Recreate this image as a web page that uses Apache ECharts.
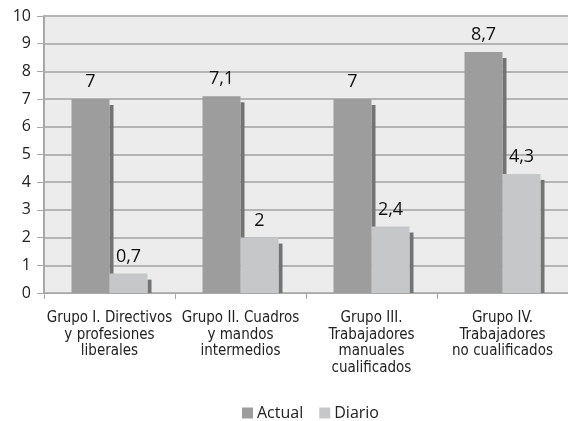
<!DOCTYPE html>
<html>
<head>
<meta charset="utf-8">
<script src="https://cdn.jsdelivr.net/npm/echarts@6/dist/echarts.min.js"></script>
<style>html,body{margin:0;padding:0;background:#fff}#c{width:568px;height:421px}</style>
</head>
<body>
<div id="c"></div>
<script>
const categories = [
  'Grupo I. Directivos\ny profesiones\nliberales',
  'Grupo II. Cuadros\ny mandos\nintermedios',
  'Grupo III.\nTrabajadores\nmanuales\ncualificados',
  'Grupo IV.\nTrabajadores\nno cualificados'
];
const actual = [7, 7.1, 7, 8.7];
const diario = [0.7, 2, 2.4, 4.3];
const yTicks = [0, 1, 2, 3, 4, 5, 6, 7, 8, 9, 10];

const BAR_W = 38;
const fmt = v => String(v).replace('.', ',');

const shadowData = [];
actual.forEach((v, i) => shadowData.push([i, v, 0]));
diario.forEach((v, i) => shadowData.push([i, v, 1]));

const chart = echarts.init(document.getElementById('c'), null, {renderer: 'canvas'});
const labelStyle = {
  show: true, position: 'top', distance: 8,
  fontFamily: 'Open Sans', fontSize: 18, fontWeight: 500, color: '#111',
  formatter: p => fmt(p.value)
};
chart.setOption({
  animation: false,
  backgroundColor: '#ffffff',
  grid: {left: 44, top: 16, width: 531, height: 277, show: true, backgroundColor: '#ebeceb', borderWidth: 0},
  legend: {
    left: 237, top: 400, icon: 'rect', itemWidth: 11, itemHeight: 11, itemGap: 16,
    data: ['Actual', 'Diario'],
    textStyle: {fontFamily: 'Open Sans', fontSize: 16, color: '#222', padding: [0, 0, 0, -1]}
  },
  xAxis: {
    type: 'category', data: categories,
    axisLine: {lineStyle: {color: '#a8a8a8', width: 1}},
    axisTick: {show: true, length: 6, lineStyle: {color: '#a8a8a8'}},
    axisLabel: {
      margin: 17, interval: 0, fontFamily: 'Liberation Sans Narrow, DejaVu Sans Condensed, sans-serif',
      fontSize: 15, lineHeight: 16.5, color: '#222'
    }
  },
  yAxis: {
    type: 'value', min: yTicks[0], max: yTicks[yTicks.length - 1], interval: 1,
    axisLine: {show: true, lineStyle: {color: '#a8a8a8', width: 2}},
    axisTick: {show: true, length: 7, lineStyle: {color: '#a8a8a8'}},
    axisLabel: {margin: 13, fontFamily: 'Open Sans', fontSize: 16, color: '#222'},
    splitLine: {lineStyle: {color: '#b4b4b4', width: 2}}
  },
  series: [
    {
      type: 'custom', name: 'shadow', z: 1, silent: true,
      data: shadowData, encode: {x: 0, y: 1},
      renderItem: function (params, api) {
        const idx = api.value(0), val = api.value(1), side = api.value(2);
        const top = api.coord([idx, val]);
        const base = api.coord([idx, 0]);
        const xr = top[0] + side * BAR_W;
        return {
          type: 'rect',
          shape: {x: xr, y: top[1] + 6, width: 4, height: base[1] - top[1] - 6},
          style: {fill: '#737373'}
        };
      }
    },
    {
      type: 'bar', name: 'Actual', data: actual, barWidth: BAR_W, barGap: '0%', z: 2,
      itemStyle: {color: '#9d9d9e'}, label: labelStyle
    },
    {
      type: 'bar', name: 'Diario', data: diario, barWidth: BAR_W, barGap: '0%', z: 2,
      itemStyle: {color: '#c6c7c8'}, label: labelStyle
    }
  ]
});
</script>
</body>
</html>
